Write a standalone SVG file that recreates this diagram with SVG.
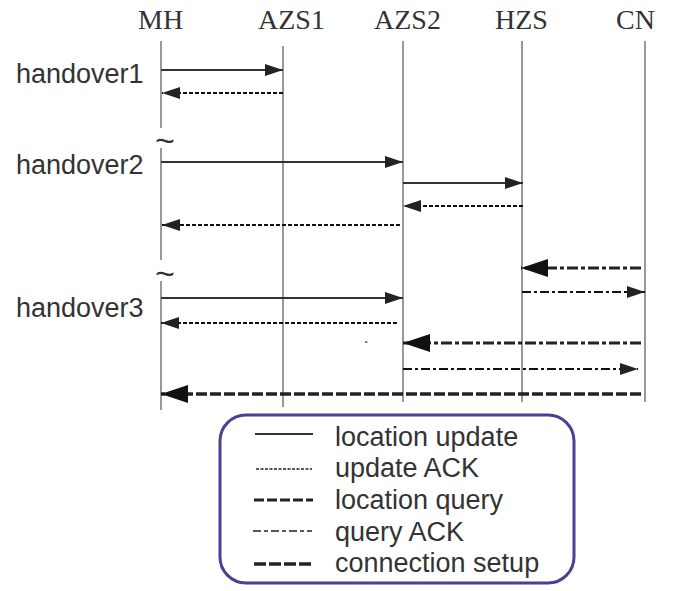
<svg xmlns="http://www.w3.org/2000/svg" width="682" height="591" viewBox="0 0 682 591">
<style>
.hdr{font-family:"Liberation Serif","Times New Roman",serif;font-size:28px;fill:#333}
.lbl{font-family:"Liberation Sans",Arial,sans-serif;font-size:27px;fill:#333}
.tl{font-family:"Liberation Sans",Arial,sans-serif;font-size:34px;fill:#333}
.life{stroke:#555;stroke-width:1.2;fill:none}
.upd{stroke:#333;stroke-width:2.2;fill:none}
.ack{stroke:#111;stroke-width:2;stroke-dasharray:4 2;fill:none}
.qry{stroke:#222;stroke-width:3.2;stroke-dasharray:11 3 4 3;fill:none}
.qack{stroke:#111;stroke-width:2;stroke-dasharray:9 3 3 3;fill:none}
.con{stroke:#222;stroke-width:3.5;stroke-dasharray:11 3;fill:none}
</style>
<defs>
<marker id="as" markerUnits="userSpaceOnUse" markerWidth="18" markerHeight="12" refX="18" refY="6" orient="auto"><path d="M0,0 L18,6 L0,12 z" fill="#222"/></marker>
<marker id="aL" markerUnits="userSpaceOnUse" markerWidth="27" markerHeight="18" refX="27" refY="9" orient="auto"><path d="M0,0 L27,9 L0,18 z" fill="#111"/></marker>
</defs>
<g id="MH">
<text class="hdr" x="138" y="29">MH</text>
<line class="life" x1="161" y1="41" x2="161" y2="128"/>
<line class="life" x1="161" y1="148" x2="161" y2="260"/>
<line class="life" x1="161" y1="281" x2="161" y2="410"/>
<text class="tl" x="155" y="152">~</text>
<text class="tl" x="155" y="285">~</text>
</g>
<g id="AZS1">
<text class="hdr" x="258" y="29">AZS1</text>
<line class="life" x1="283" y1="46" x2="283" y2="407"/>
</g>
<g id="AZS2">
<text class="hdr" x="374" y="29">AZS2</text>
<line class="life" x1="403" y1="41" x2="403" y2="402"/>
</g>
<g id="HZS">
<text class="hdr" x="495" y="29">HZS</text>
<line class="life" x1="522" y1="41" x2="522" y2="402"/>
</g>
<g id="CN">
<text class="hdr" x="616" y="29">CN</text>
<line class="life" x1="645" y1="41" x2="645" y2="402"/>
</g>
<g id="labels">
<text class="lbl" x="16" y="83">handover1</text>
<text class="lbl" x="16" y="174">handover2</text>
<text class="lbl" x="16" y="317">handover3</text>
</g>
<g id="connectors">
<line class="upd" x1="161" y1="70" x2="283" y2="70" marker-end="url(#as)"/>
<line class="ack" x1="283" y1="93" x2="162" y2="93" marker-end="url(#as)"/>
<line class="upd" x1="161" y1="162" x2="403" y2="162" marker-end="url(#as)"/>
<line class="upd" x1="403" y1="183" x2="523" y2="183" marker-end="url(#as)"/>
<line class="ack" x1="523" y1="206" x2="403" y2="206" marker-end="url(#as)"/>
<line class="ack" x1="400" y1="225" x2="162" y2="225" marker-end="url(#as)"/>
<line class="qry" x1="641" y1="268" x2="521" y2="268" marker-end="url(#aL)"/>
<line class="qack" x1="522" y1="292" x2="645" y2="292" marker-end="url(#as)"/>
<line class="upd" x1="161" y1="298" x2="403" y2="298" marker-end="url(#as)"/>
<line class="ack" x1="397" y1="323" x2="161" y2="323" marker-end="url(#as)"/>
<line class="qry" x1="641" y1="343" x2="403" y2="343" marker-end="url(#aL)"/>
<line class="qack" x1="403" y1="369" x2="638" y2="369" marker-end="url(#as)"/>
<line class="con" x1="641" y1="394" x2="161" y2="394" marker-end="url(#aL)"/>
<rect x="365" y="341.5" width="2.5" height="1.2" fill="#333"/>
</g>
<g id="legend">
<rect x="220" y="415" width="354" height="168" rx="26" ry="26" fill="#fff" stroke="#4b3f94" stroke-width="3"/>
<line class="upd" x1="255" y1="434" x2="313" y2="434"/>
<line stroke="#222" stroke-width="1.5" stroke-dasharray="3 1.5" x1="256" y1="469" x2="312" y2="469"/>
<line stroke="#222" stroke-width="3.2" stroke-dasharray="10 3" x1="254" y1="500" x2="313" y2="500"/>
<line stroke="#222" stroke-width="1.6" stroke-dasharray="8 3 4 3" x1="253" y1="531" x2="312" y2="531"/>
<line stroke="#222" stroke-width="3.5" stroke-dasharray="12 3" x1="254" y1="564" x2="313" y2="564"/>
<text class="lbl" x="335" y="446">location update</text>
<text class="lbl" x="335" y="477">update ACK</text>
<text class="lbl" x="335" y="509">location query</text>
<text class="lbl" x="335" y="541">query ACK</text>
<text class="lbl" x="335" y="572">connection setup</text>
</g>
</svg>
